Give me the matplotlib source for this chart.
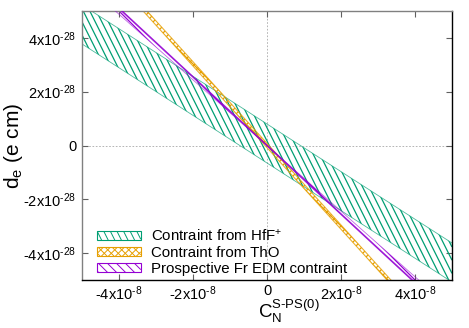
import numpy as np
import matplotlib
matplotlib.use('Agg')
import matplotlib.pyplot as plt
from matplotlib.collections import LineCollection
from matplotlib.patches import Rectangle
from matplotlib.legend_handler import HandlerBase

# ---------------- data ----------------
x_range = [-5e-8, 0.0, 5e-8]
hff_slope = -8.85e-21
hff_intercepts = [-6.5e-29, 8.0e-29]
tho_slope = -1.517e-20
tho_intercepts = [-8e-30, 8e-30]
fr_slopes = [-1.22e-20, -1.275e-20]
series_labels = ['Contraint from HfF$^{+}$', 'Contraint from ThO',
                 'Prospective Fr EDM contraint']
xticks = [-4e-8, -2e-8, 0, 2e-8, 4e-8]
xticklabels = ['-4x10$^\\text{-8}$', '-2x10$^\\text{-8}$', '0',
               '2x10$^\\text{-8}$', '4x10$^\\text{-8}$']
yticks = [-4e-28, -2e-28, 0, 2e-28, 4e-28]
yticklabels = ['-4x10$^\\text{-28}$', '-2x10$^\\text{-28}$', '0',
               '2x10$^\\text{-28}$', '4x10$^\\text{-28}$']
xlim = (-5e-8, 5e-8)
ylim = (-5e-28, 5e-28)

GREEN = '#009e73'
ORANGE = '#e69f00'
PURPLE = '#9400d3'

plt.rcParams['font.family'] = ['Liberation Sans', 'DejaVu Sans']
plt.rcParams['mathtext.fontset'] = 'custom'
plt.rcParams['mathtext.rm'] = 'Liberation Sans'
plt.rcParams['mathtext.it'] = 'Liberation Sans:italic'
plt.rcParams['mathtext.bf'] = 'Liberation Sans:bold'

DPI = 100
fig = plt.figure(figsize=(4.69, 3.28), dpi=DPI)
L, B, W, H = 82, 48, 370, 269
ax = fig.add_axes([L / 469, B / 328, W / 469, H / 328])
ax.set_xlim(*xlim)
ax.set_ylim(*ylim)

# hatch styles: (list of slopes in pixel space, spacing in px)
STYLES = {
    'hff': ([2.0], 6.6),
    'tho': ([1.0, -1.0], 7.0),
    'fr': ([1.0], 9.0),
}


def hatch_axes(ax, poly, slopes, spacing, color, lw=0.9):
    path = poly.get_paths()[0]
    for s in slopes:
        segs = []
        a = abs(s)
        cs = np.arange(-a * W - H, H + a * W + H, spacing * a)
        for c in cs:
            if s > 0:
                p0 = (0, c); p1 = (W, c - a * W)
            else:
                p0 = (0, c); p1 = (W, c + a * W)
            segs.append([(p0[0] / W, p0[1] / H), (p1[0] / W, p1[1] / H)])
        lc = LineCollection(segs, colors=color, linewidths=lw, transform=ax.transAxes,
                            zorder=2)
        ax.add_collection(lc)
        lc.set_clip_path(path, ax.transData)


xs = np.array(x_range)

# zero axes
ax.axhline(0, color='#a8a8a8', lw=0.6, ls=(0, (2, 2)), zorder=0.5)
ax.axvline(0, color='#a8a8a8', lw=0.6, ls=(0, (2, 2)), zorder=0.5)

# HfF+ band
lo = hff_slope * xs + hff_intercepts[0]
hi = hff_slope * xs + hff_intercepts[1]
p = ax.fill_between(xs, lo, hi, facecolor='none', edgecolor='none')
hatch_axes(ax, p, *STYLES['hff'], GREEN)
ax.plot(xs, lo, color=GREEN, lw=0.6, alpha=0.7, zorder=2)
ax.plot(xs, hi, color=GREEN, lw=0.6, alpha=0.7, zorder=2)

# ThO band
lo = tho_slope * xs + tho_intercepts[0]
hi = tho_slope * xs + tho_intercepts[1]
p = ax.fill_between(xs, lo, hi, facecolor='none', edgecolor='none')
hatch_axes(ax, p, *STYLES['tho'], ORANGE)
ax.plot(xs, lo, color=ORANGE, lw=0.8, alpha=0.8, zorder=2)
ax.plot(xs, hi, color=ORANGE, lw=0.8, alpha=0.8, zorder=2)

# Fr prospective band
lo = fr_slopes[0] * xs
hi = fr_slopes[1] * xs
p = ax.fill_between(xs, lo, hi, facecolor='none', edgecolor='none')
hatch_axes(ax, p, *STYLES['fr'], PURPLE)
ax.plot(xs, lo, color=PURPLE, lw=0.6, alpha=0.6, zorder=3)
ax.plot(xs, hi, color=PURPLE, lw=1.2, alpha=0.9, zorder=3)


# legend with custom hatched handles
class HatchHandler(HandlerBase):
    def __init__(self, color, slopes, spacing):
        super().__init__()
        self.color = color
        self.slopes = slopes
        self.spacing = spacing

    def create_artists(self, legend, orig_handle, xdescent, ydescent, width, height,
                       fontsize, trans):
        x0, y0 = -xdescent, -ydescent
        rect = Rectangle((x0, y0), width, height, fill=False, edgecolor=self.color,
                         lw=0.8, transform=trans)
        arts = [rect]
        pt = 72.0 / DPI
        sp = self.spacing * pt
        for s in self.slopes:
            a = abs(s)
            segs = []
            for c in np.arange(-a * width - height, height + a * width + height, sp * a):
                if s > 0:
                    segs.append([(x0, y0 + c), (x0 + width, y0 + c - a * width)])
                else:
                    segs.append([(x0, y0 + c), (x0 + width, y0 + c + a * width)])
            lc = LineCollection(segs, colors=self.color, linewidths=0.7, transform=trans)
            lc.set_clip_path(rect)
            arts.append(lc)
        return arts


h1, h2, h3 = object(), object(), object()
leg = ax.legend([h1, h2, h3], series_labels,
                handler_map={h1: HatchHandler(GREEN, *STYLES['hff']),
                             h2: HatchHandler(ORANGE, *STYLES['tho']),
                             h3: HatchHandler(PURPLE, *STYLES['fr'])},
                loc='lower left', bbox_to_anchor=(0.025, -0.006), frameon=False,
                fontsize=10.8, handlelength=2.9, handleheight=0.6, handletextpad=0.7,
                labelspacing=0.12, borderpad=0.2, borderaxespad=0.2)

# axes styling
ax.set_xticks(xticks)
ax.set_xticklabels(xticklabels, fontsize=10.5)
ax.set_yticks(yticks)
ax.set_yticklabels(yticklabels, fontsize=10.5)
ax.tick_params(direction='in', length=4, width=0.8, top=True, right=True,
               color='#606060', pad=4)
ax.tick_params(axis='x', pad=3)
for side in ['top', 'left']:
    ax.spines[side].set_color('#808080')
    ax.spines[side].set_linewidth(1.0)
for side in ['bottom', 'right']:
    ax.spines[side].set_color('#000000')
    ax.spines[side].set_linewidth(1.0)

ax.set_ylabel(r'd$_\mathrm{e}$ (e cm)', fontsize=15)
ax.yaxis.set_label_coords(-0.155, 0.5)
ax.set_xlabel(r'C$_\mathrm{N}^\text{S-PS(0)}$', fontsize=13.5)
ax.xaxis.set_label_coords(0.56, -0.066)

fig.savefig('out.png', dpi=DPI)
